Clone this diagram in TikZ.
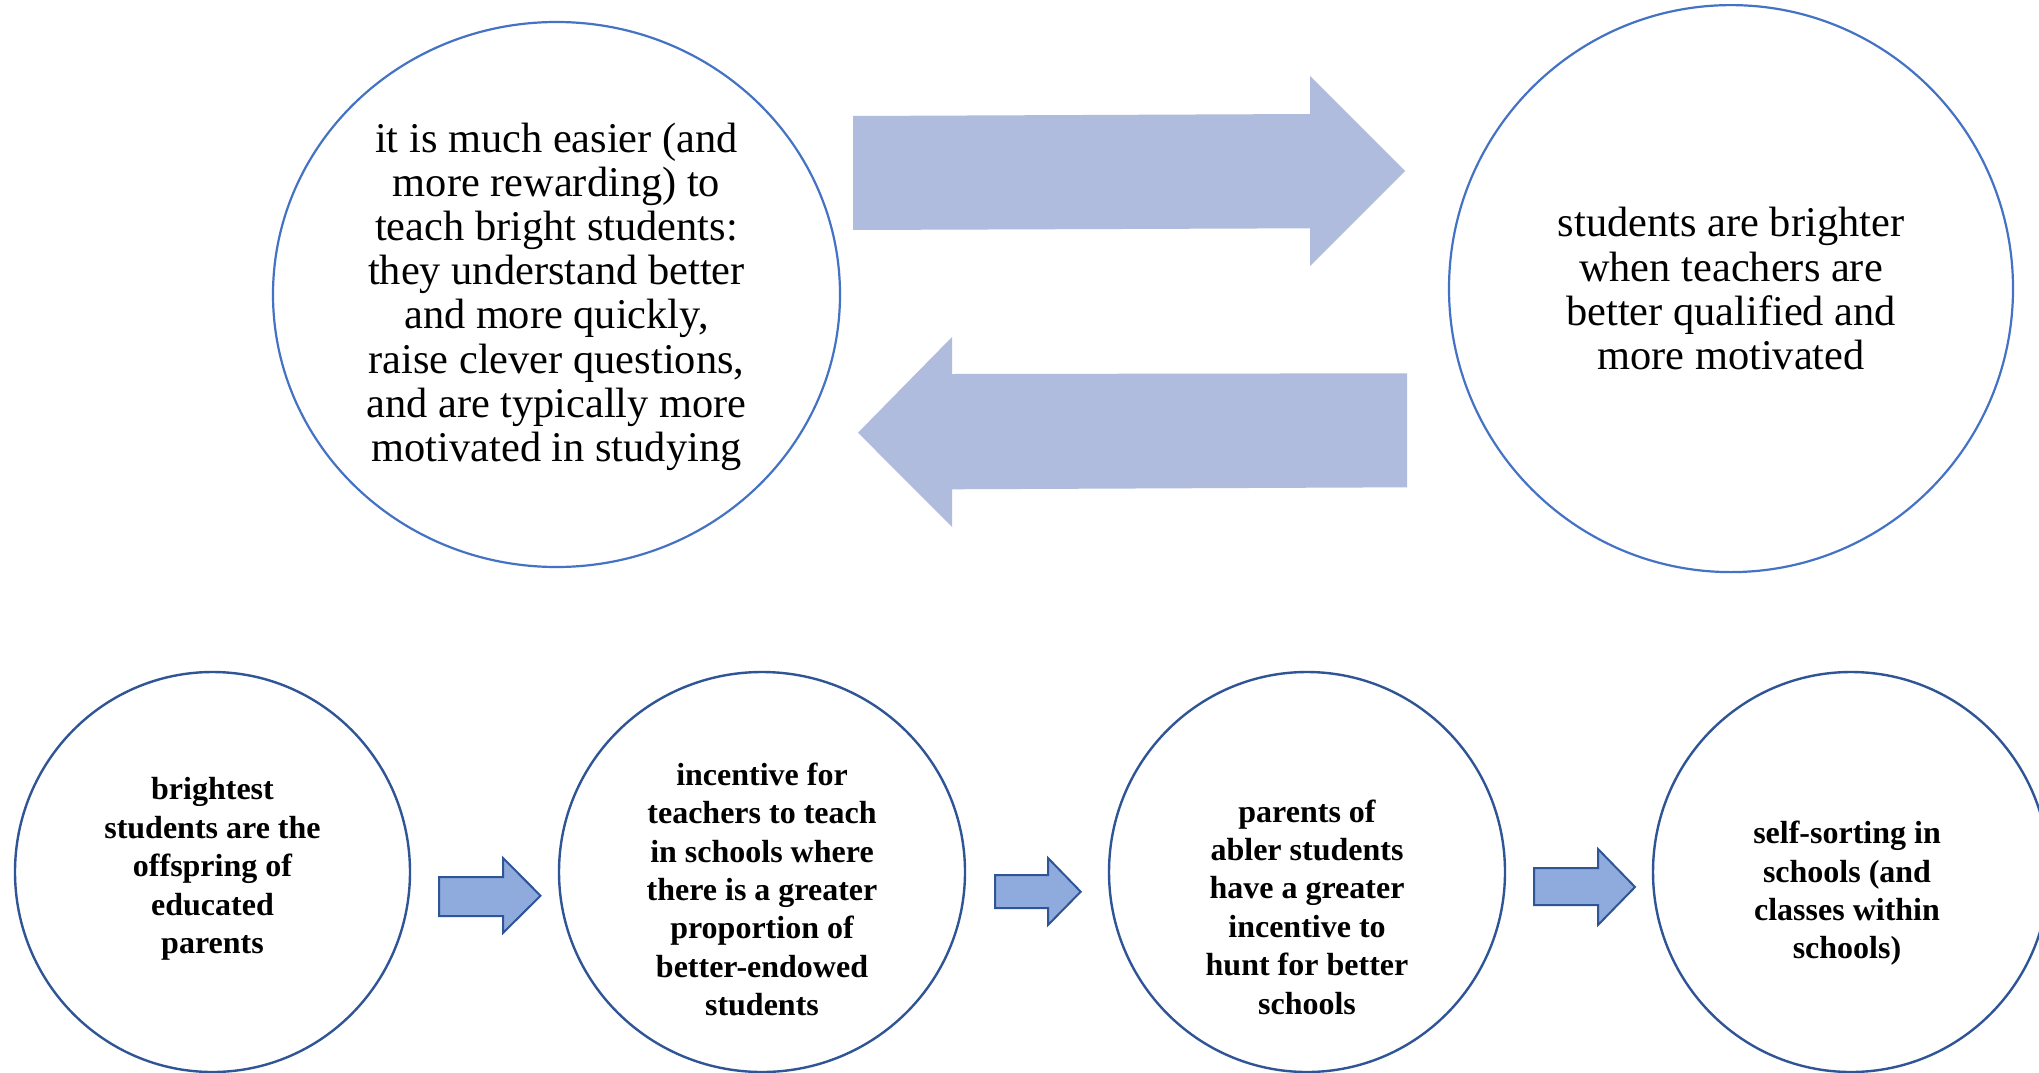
\documentclass[tikz,border=0pt]{standalone}
\usepackage{fontspec}
\setmainfont{Liberation Serif}
\usetikzlibrary{shapes.geometric}
\definecolor{ringTop}{HTML}{4472C4}
\definecolor{ringBot}{HTML}{2F5597}
\definecolor{bigArrow}{HTML}{AFBCDD}
\definecolor{smallArrow}{HTML}{8FAADC}
\begin{document}
\begin{tikzpicture}[x=1pt,y=-1pt,
  topring/.style={draw=ringTop, line width=2.2pt, ellipse, inner sep=0pt},
  botring/.style={draw=ringBot, line width=2.4pt, ellipse, inner sep=0pt},
  toptext/.style={align=center, inner sep=0pt, font={\fontsize{42.4}{44.2}\selectfont}},
  bottext/.style={align=center, inner sep=0pt, font={\bfseries\fontsize{32}{38.4}\selectfont}},
  bigarrow/.style={fill=bigArrow, draw=none},
  smallarrow/.style={fill=smallArrow, draw=ringBot, line width=2pt, line join=miter}]
\useasboundingbox (0,0) rectangle (2039,1073);
\fill[white] (0,0) rectangle (2039,1073);

% top circles
\node[topring, minimum width=567pt, minimum height=545pt] (t1) at (556.5,294.5) {};
\node[topring, minimum width=564pt, minimum height=567pt] (t2) at (1731,288.6) {};
\node[toptext] (t1txt) at (556.5,296.6) {it is much easier (and\\more rewarding) to\\teach bright students:\\they understand better\\and more quickly,\\raise clever questions,\\and are typically more\\motivated in studying};
\node[toptext] (t2txt) at (1731,288.6) {students are brighter\\when teachers are\\better qualified and\\more motivated};

% big arrows
\path[bigarrow] (853,116) -- (1310,114) -- (1310,76) -- (1405,171) -- (1310,266) -- (1310,228.3) -- (853,230) -- cycle;
\path[bigarrow] (1407,373.3) -- (952,374) -- (952,337) -- (858,432.7) -- (952,527) -- (952,489.3) -- (1407,487.3) -- cycle;

% bottom circles
\node[botring, minimum width=395pt, minimum height=400pt] (b1) at (212.5,872) {};
\node[botring, minimum width=406pt, minimum height=400pt] (b2) at (762,872) {};
\node[botring, minimum width=396pt, minimum height=400pt] (b3) at (1307,872) {};
\node[botring, minimum width=396pt, minimum height=400pt] (b4) at (1851,872) {};

\node[bottext] (b1txt) at (212.5,869) {brightest\\students are the\\offspring of\\educated\\parents};
\node[bottext] (b2txt) at (762,889.5) {incentive for\\teachers to teach\\in schools where\\there is a greater\\proportion of\\better-endowed\\students};
\node[bottext] (b3txt) at (1307,907) {parents of\\abler students\\have a greater\\incentive to\\hunt for better\\schools};
\node[bottext] (b4txt) at (1847,893.5) {self-sorting in\\schools (and\\classes within\\schools)};

% small arrows
\path[smallarrow] (439,877) -- (503,877) -- (503,858) -- (540.5,895.7) -- (503,933) -- (503,916) -- (439,916) -- cycle;
\path[smallarrow] (995,875) -- (1048,875) -- (1048,858) -- (1080.7,891.7) -- (1048,925) -- (1048,908) -- (995,908) -- cycle;
\path[smallarrow] (1534,868) -- (1598,868) -- (1598,849) -- (1635,887) -- (1598,925) -- (1598,905) -- (1534,905) -- cycle;
\end{tikzpicture}
\end{document}
